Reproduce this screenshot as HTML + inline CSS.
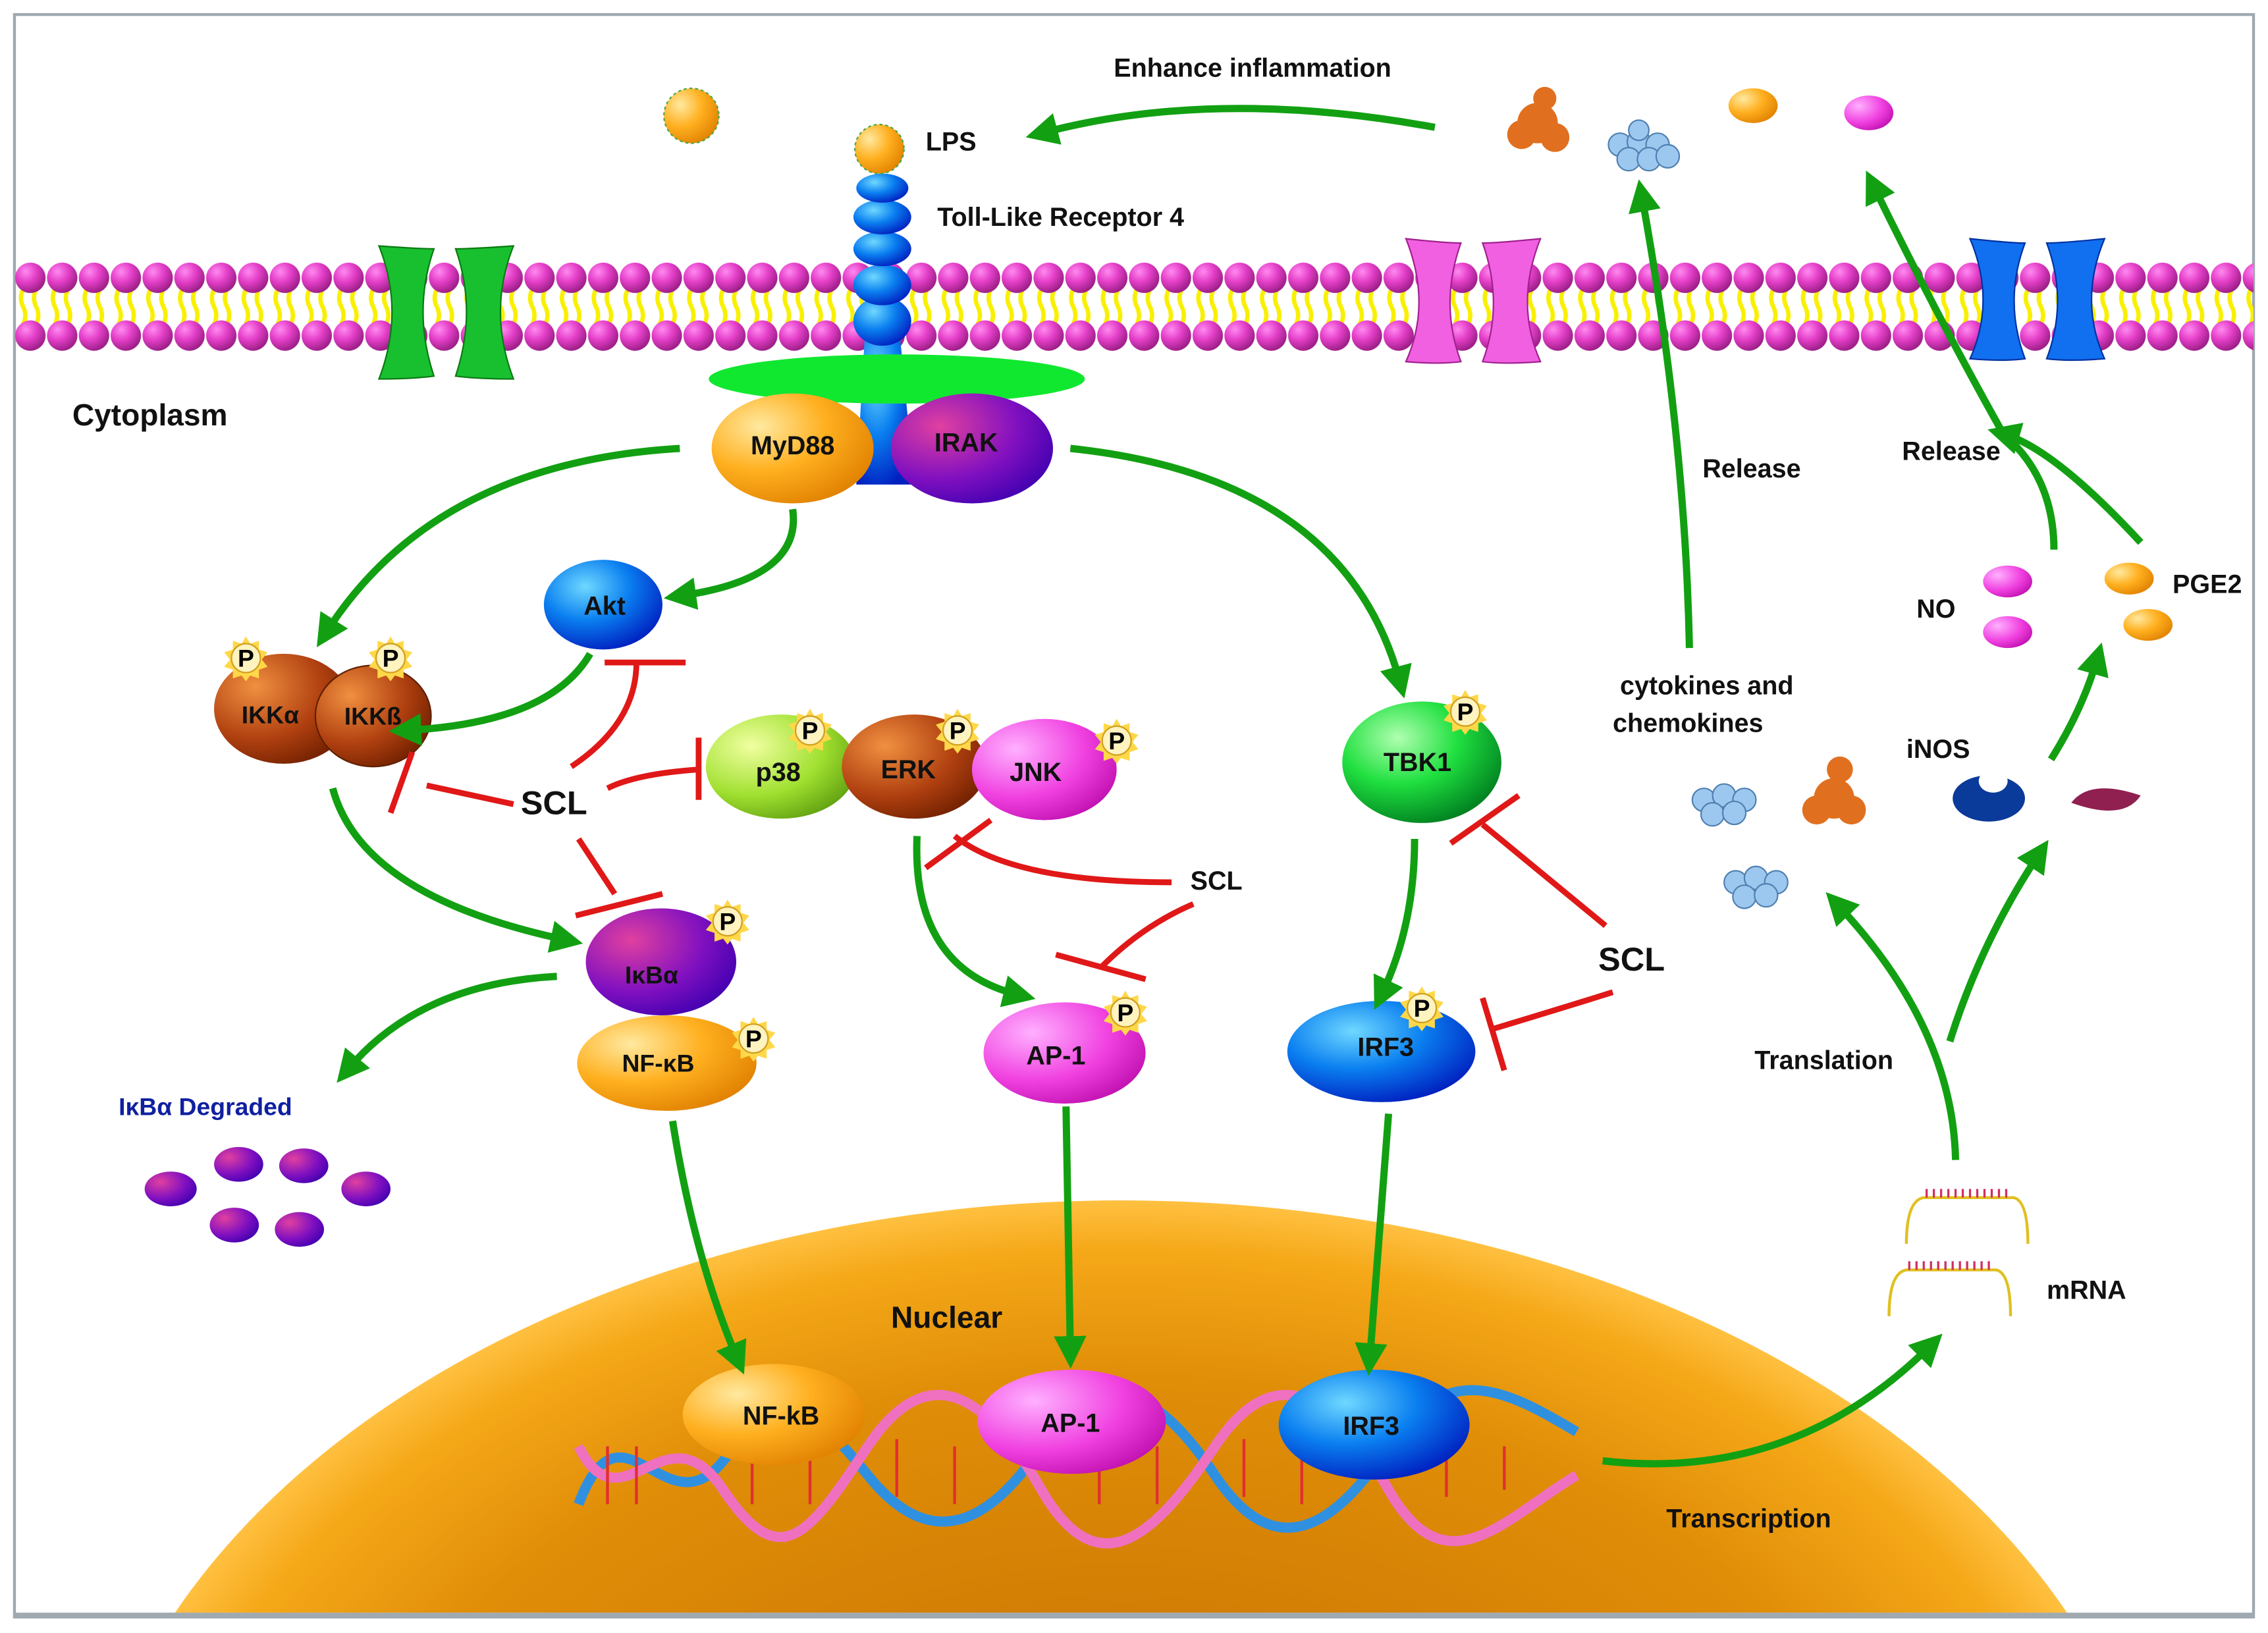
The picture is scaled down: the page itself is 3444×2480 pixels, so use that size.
<!DOCTYPE html>
<html><head><meta charset="utf-8"><style>
html,body{margin:0;padding:0;background:#fff;width:3444px;height:2480px;overflow:hidden}
svg{display:block}
text{font-family:"Liberation Sans",Arial,sans-serif;font-weight:bold}
</style></head><body>
<svg width="3444" height="2480" viewBox="0 0 1568 1129" xmlns="http://www.w3.org/2000/svg">
<defs>
<radialGradient id="pk" cx="35%" cy="30%" r="70%"><stop offset="0" stop-color="#ff8af0"/><stop offset="0.5" stop-color="#e43fc8"/><stop offset="1" stop-color="#a0208a"/></radialGradient>
<radialGradient id="bl" cx="35%" cy="30%" r="75%"><stop offset="0" stop-color="#6fd8ff"/><stop offset="0.5" stop-color="#0a7ff0"/><stop offset="1" stop-color="#0020c0"/></radialGradient>
<radialGradient id="or" cx="30%" cy="30%" r="80%"><stop offset="0" stop-color="#ffe9a0"/><stop offset="0.5" stop-color="#ffb020"/><stop offset="1" stop-color="#e08000"/></radialGradient>
<radialGradient id="pu" cx="30%" cy="30%" r="80%"><stop offset="0" stop-color="#e040a0"/><stop offset="0.6" stop-color="#8010c0"/><stop offset="1" stop-color="#4000b0"/></radialGradient>
<radialGradient id="gr" cx="35%" cy="30%" r="75%"><stop offset="0" stop-color="#b0ffb0"/><stop offset="0.5" stop-color="#20e040"/><stop offset="1" stop-color="#008020"/></radialGradient>
<radialGradient id="br" cx="30%" cy="30%" r="80%"><stop offset="0" stop-color="#f09040"/><stop offset="0.6" stop-color="#b04010"/><stop offset="1" stop-color="#702000"/></radialGradient>
<radialGradient id="yg" cx="30%" cy="30%" r="80%"><stop offset="0" stop-color="#f0ffa0"/><stop offset="0.6" stop-color="#a0e030"/><stop offset="1" stop-color="#60a010"/></radialGradient>
<radialGradient id="mg" cx="30%" cy="30%" r="80%"><stop offset="0" stop-color="#ffb0ff"/><stop offset="0.6" stop-color="#f040e0"/><stop offset="1" stop-color="#c010b0"/></radialGradient>
<radialGradient id="nuc" gradientUnits="userSpaceOnUse" cx="775" cy="1320" r="720" gradientTransform="translate(775 1320) scale(1 0.68) translate(-775 -1320)"><stop offset="0" stop-color="#c06a00"/><stop offset="0.75" stop-color="#e08e08"/><stop offset="0.93" stop-color="#f5a818"/><stop offset="1" stop-color="#ffc040"/></radialGradient>
<marker id="ga" viewBox="0 0 10 10" refX="5" refY="5" markerWidth="4.5" markerHeight="4.5" orient="auto"><path d="M0,0 L10,5 L0,10 z" fill="#12a012"/></marker>
<pattern id="mem" x="10" y="0" width="22" height="300" patternUnits="userSpaceOnUse">
<path d="M6,200 q-3,6 0,12 q3,6 0,12 M15,200 q-3,6 0,12 q3,6 0,12" stroke="#f8f000" stroke-width="3" fill="none"/>
<circle cx="11" cy="192" r="10.5" fill="url(#pk)"/>
<circle cx="11" cy="232" r="10.5" fill="url(#pk)"/>
</pattern>
<g id="P"><path d="M0,-15 L3,-10 L9,-12 L9,-6 L15,-4 L11,1 L15,6 L9,8 L9,14 L3,12 L0,16 L-3,12 L-9,14 L-9,8 L-15,6 L-11,1 L-15,-4 L-9,-6 L-9,-12 L-3,-10z" fill="#ffd84a"/><circle r="10" fill="#fff3c0" stroke="#d0a020" stroke-width="1"/><text y="6" text-anchor="middle" font-size="17" fill="#000">P</text></g>
</defs>
<rect x="10" y="10" width="1548" height="1108" fill="#fff" stroke="#a0a8b0" stroke-width="2"/>
<path d="M121,1115 A720,490 0 0 1 1429,1115 Z" fill="url(#nuc)"/>
<rect x="10" y="1115" width="1548" height="3" fill="#a0a8b0"/>
<rect x="10" y="178" width="1548" height="68" fill="url(#mem)"/>
<g>
<path d="M262,170 Q290,172 300,172 Q285,215 300,260 Q285,262 262,262 Q280,215 262,170z" fill="#18c030" stroke="#0a7a10"/>
<path d="M355,170 Q325,172 315,172 Q330,215 315,260 Q330,262 355,262 Q337,215 355,170z" fill="#18c030" stroke="#0a7a10"/>
<path d="M972,165 Q1000,168 1010,168 Q995,210 1010,250 Q995,252 972,250 Q990,210 972,165z" fill="#f060e0" stroke="#a02090"/>
<path d="M1065,165 Q1035,168 1025,168 Q1040,210 1025,250 Q1040,252 1065,250 Q1047,210 1065,165z" fill="#f060e0" stroke="#a02090"/>
<path d="M1362,165 Q1390,168 1400,168 Q1385,208 1400,248 Q1385,250 1362,248 Q1380,208 1362,165z" fill="#1070f0" stroke="#0030a0"/>
<path d="M1455,165 Q1425,168 1415,168 Q1430,208 1415,248 Q1430,250 1455,248 Q1437,208 1455,165z" fill="#1070f0" stroke="#0030a0"/>
</g>
<path d="M598,230 L622,230 L632,335 L592,335z" fill="url(#bl)"/>
<g fill="url(#bl)"><ellipse cx="610" cy="222" rx="20" ry="17"/><ellipse cx="610" cy="197" rx="20" ry="14"/><ellipse cx="610" cy="172" rx="20" ry="12"/><ellipse cx="610" cy="150" rx="20" ry="12"/><ellipse cx="610" cy="130" rx="18" ry="10"/></g>
<circle cx="608" cy="103" r="17" fill="url(#or)" stroke="#4a4" stroke-dasharray="2 2"/>
<circle cx="478" cy="80" r="19" fill="url(#or)" stroke="#4a4" stroke-dasharray="2 2"/>
<ellipse cx="620" cy="262" rx="130" ry="17" fill="#10e830"/>
<ellipse cx="548" cy="310" rx="56" ry="38" fill="url(#or)"/>
<ellipse cx="672" cy="310" rx="56" ry="38" fill="url(#pu)"/>
<g fill="#e07020"><circle cx="1063" cy="85" r="14"/><circle cx="1052" cy="93" r="10"/><circle cx="1075" cy="95" r="10"/><circle cx="1068" cy="68" r="8"/></g>
<g fill="#9cc8f0" stroke="#5080b0"><circle cx="1120" cy="100" r="8"/><circle cx="1133" cy="98" r="8"/><circle cx="1146" cy="100" r="8"/><circle cx="1126" cy="110" r="8"/><circle cx="1140" cy="110" r="8"/><circle cx="1153" cy="108" r="8"/><circle cx="1133" cy="90" r="7"/></g>
<ellipse cx="1212" cy="73" rx="17" ry="12" fill="url(#or)"/>
<ellipse cx="1292" cy="78" rx="17" ry="12" fill="url(#mg)"/>
<ellipse cx="417" cy="418" rx="41" ry="31" fill="url(#bl)"/>
<ellipse cx="196" cy="490" rx="48" ry="38" fill="url(#br)"/>
<ellipse cx="258" cy="495" rx="40" ry="35" fill="url(#br)" stroke="#602000"/>
<ellipse cx="540" cy="530" rx="52" ry="36" fill="url(#yg)"/>
<ellipse cx="632" cy="530" rx="50" ry="36" fill="url(#br)"/>
<ellipse cx="722" cy="532" rx="50" ry="35" fill="url(#mg)"/>
<ellipse cx="983" cy="527" rx="55" ry="42" fill="url(#gr)"/>
<ellipse cx="457" cy="665" rx="52" ry="37" fill="url(#pu)"/>
<ellipse cx="461" cy="735" rx="62" ry="33" fill="url(#or)"/>
<ellipse cx="736" cy="728" rx="56" ry="35" fill="url(#mg)"/>
<ellipse cx="955" cy="727" rx="65" ry="35" fill="url(#bl)"/>
<g fill="url(#pu)"><ellipse cx="118" cy="822" rx="18" ry="12"/><ellipse cx="165" cy="805" rx="17" ry="12"/><ellipse cx="210" cy="806" rx="17" ry="12"/><ellipse cx="253" cy="822" rx="17" ry="12"/><ellipse cx="162" cy="847" rx="17" ry="12"/><ellipse cx="207" cy="850" rx="17" ry="12"/></g>
<ellipse cx="1388" cy="402" rx="17" ry="11" fill="url(#mg)"/>
<ellipse cx="1388" cy="437" rx="17" ry="11" fill="url(#mg)"/>
<ellipse cx="1472" cy="400" rx="17" ry="11" fill="url(#or)"/>
<ellipse cx="1485" cy="432" rx="17" ry="11" fill="url(#or)"/>
<g fill="#9cc8f0" stroke="#5080b0"><circle cx="1178" cy="553" r="8"/><circle cx="1192" cy="550" r="8"/><circle cx="1206" cy="553" r="8"/><circle cx="1184" cy="563" r="8"/><circle cx="1199" cy="562" r="8"/><circle cx="1200" cy="610" r="8"/><circle cx="1214" cy="607" r="8"/><circle cx="1228" cy="610" r="8"/><circle cx="1206" cy="620" r="8"/><circle cx="1221" cy="619" r="8"/></g>
<g fill="#e07020"><circle cx="1268" cy="552" r="14"/><circle cx="1256" cy="560" r="10"/><circle cx="1280" cy="560" r="10"/><circle cx="1272" cy="532" r="9"/></g>
<ellipse cx="1375" cy="552" rx="25" ry="16" fill="#0a3a9a"/><ellipse cx="1378" cy="540" rx="10" ry="8" fill="#fff"/>
<path d="M1432,555 Q1445,538 1480,550 Q1468,568 1432,555z" fill="#902050"/>
<g stroke="#e0c020" stroke-width="2" fill="none"><path d="M1318,860 Q1318,830 1330,828 L1392,828 Q1402,830 1402,860"/><path d="M1306,910 Q1306,880 1318,878 L1380,878 Q1390,880 1390,910"/></g>
<g stroke="#d03060" stroke-width="1.5"><path d="M1332,822 v6 M1337,822 v6 M1342,822 v6 M1347,822 v6 M1352,822 v6 M1357,822 v6 M1362,822 v6 M1367,822 v6 M1372,822 v6 M1377,822 v6 M1382,822 v6 M1387,822 v6 M1320,872 v6 M1325,872 v6 M1330,872 v6 M1335,872 v6 M1340,872 v6 M1345,872 v6 M1350,872 v6 M1355,872 v6 M1360,872 v6 M1365,872 v6 M1370,872 v6 M1375,872 v6"/></g>
<g fill="none" stroke-width="7">
<path d="M400,1040 C430,960 460,1060 500,1010 S560,970 600,1020 S680,1060 720,1000 S800,960 840,1020 S920,1060 960,1000 S1040,960 1090,990" stroke="#3090e0"/>
<path d="M400,1000 C430,1060 460,970 500,1030 S560,1060 600,1000 S680,960 720,1030 S800,1060 840,1000 S920,960 960,1030 S1040,1050 1090,1020" stroke="#f070c0"/>
</g>
<g stroke="#e03030" stroke-width="2"><path d="M420,1000 v40 M440,1000 v40 M520,1000 v40 M560,995 v45 M620,995 v40 M660,1000 v40 M760,1000 v40 M800,1000 v40 M860,995 v40 M900,1000 v40 M1000,995 v40 M1040,1000 v30"/></g>
<ellipse cx="535" cy="978" rx="63" ry="35" fill="url(#or)"/>
<ellipse cx="741" cy="983" rx="65" ry="36" fill="url(#mg)"/>
<ellipse cx="950" cy="985" rx="66" ry="38" fill="url(#bl)"/>
<use href="#P" x="170" y="455"/><use href="#P" x="270" y="455"/><use href="#P" x="560" y="505"/><use href="#P" x="662" y="505"/><use href="#P" x="772" y="512"/><use href="#P" x="1013" y="492"/><use href="#P" x="503" y="637"/><use href="#P" x="521" y="718"/><use href="#P" x="778" y="700"/><use href="#P" x="983" y="697"/>
<g fill="none" stroke="#12a012" stroke-width="5" marker-end="url(#ga)">
<path d="M992,88 Q840,60 720,92"/>
<path d="M470,310 Q300,320 225,438"/>
<path d="M548,352 Q555,400 470,412"/>
<path d="M740,310 Q930,330 968,472"/>
<path d="M408,452 Q380,500 280,505"/>
<path d="M230,545 Q250,620 392,650"/>
<path d="M385,675 Q290,680 240,740"/>
<path d="M634,578 Q630,670 705,688"/>
<path d="M978,580 Q978,640 955,688"/>
<path d="M465,775 Q480,870 510,940"/>
<path d="M737,765 L740,935"/>
<path d="M960,770 L947,940"/>
<path d="M1108,1010 Q1240,1025 1335,930"/>
<path d="M1352,802 Q1350,710 1270,625"/>
<path d="M1348,720 Q1370,650 1410,590"/>
<path d="M1418,525 Q1440,490 1450,455"/>
<path d="M1168,448 Q1165,300 1135,135"/>
<path d="M1420,380 Q1420,330 1385,300 Q1340,220 1295,128"/>
<path d="M1480,375 Q1420,310 1385,300"/>
</g>
<g fill="none" stroke="#e01818" stroke-width="4">
<path d="M395,530 Q440,500 440,458"/><path d="M418,458 L474,458"/>
<path d="M355,556 L295,543"/><path d="M270,562 L285,520"/>
<path d="M400,580 L425,618"/><path d="M398,633 L458,618"/>
<path d="M420,545 Q440,535 483,532"/><path d="M483,510 L483,553"/>
<path d="M810,610 Q700,610 660,578"/><path d="M640,600 L685,567"/>
<path d="M825,625 Q790,640 762,668"/><path d="M730,660 L792,677"/>
<path d="M1110,640 L1025,570"/><path d="M1003,583 L1050,550"/>
<path d="M1115,686 Q1070,700 1030,712"/><path d="M1025,690 L1040,740"/>
</g>
<g font-size="18" fill="#111">
<text x="770" y="53">Enhance inflammation</text>
<text x="640" y="104">LPS</text>
<text x="648" y="156">Toll-Like Receptor 4</text>
<text x="50" y="294" font-size="21">Cytoplasm</text>
<text x="548" y="314" text-anchor="middle">MyD88</text>
<text x="668" y="312" text-anchor="middle">IRAK</text>
<text x="418" y="425" text-anchor="middle">Akt</text>
<text x="538" y="540" text-anchor="middle">p38</text>
<text x="628" y="538" text-anchor="middle">ERK</text>
<text x="716" y="540" text-anchor="middle">JNK</text>
<text x="980" y="533" text-anchor="middle">TBK1</text>
<text x="730" y="736" text-anchor="middle">AP-1</text>
<text x="958" y="730" text-anchor="middle">IRF3</text>
<text x="540" y="985" text-anchor="middle">NF-kB</text>
<text x="740" y="990" text-anchor="middle">AP-1</text>
<text x="948" y="992" text-anchor="middle">IRF3</text>
<text x="616" y="918" font-size="21">Nuclear</text>
<text x="1177" y="330">Release</text>
<text x="1315" y="318">Release</text>
<text x="1120" y="480">cytokines and</text>
<text x="1115" y="506">chemokines</text>
<text x="1325" y="427">NO</text>
<text x="1502" y="410">PGE2</text>
<text x="1318" y="524">iNOS</text>
<text x="1213" y="739">Translation</text>
<text x="1415" y="898">mRNA</text>
<text x="1152" y="1056">Transcription</text>
<text x="823" y="615" font-weight="normal">SCL</text>
</g>
<g font-family="Liberation Serif,serif" font-weight="bold" font-size="17" fill="#111">
<text x="167" y="500">IKKα</text><text x="238" y="501">IKKß</text>
<text x="432" y="680">IκBα</text><text x="430" y="741">NF-κB</text>
<text x="82" y="771" fill="#1020a0">IκBα Degraded</text>
</g>
<text x="360" y="563" font-size="23" font-weight="normal" fill="#111">SCL</text>
<text x="1105" y="671" font-size="23" font-weight="normal" fill="#111">SCL</text>
</svg>
</body></html>
